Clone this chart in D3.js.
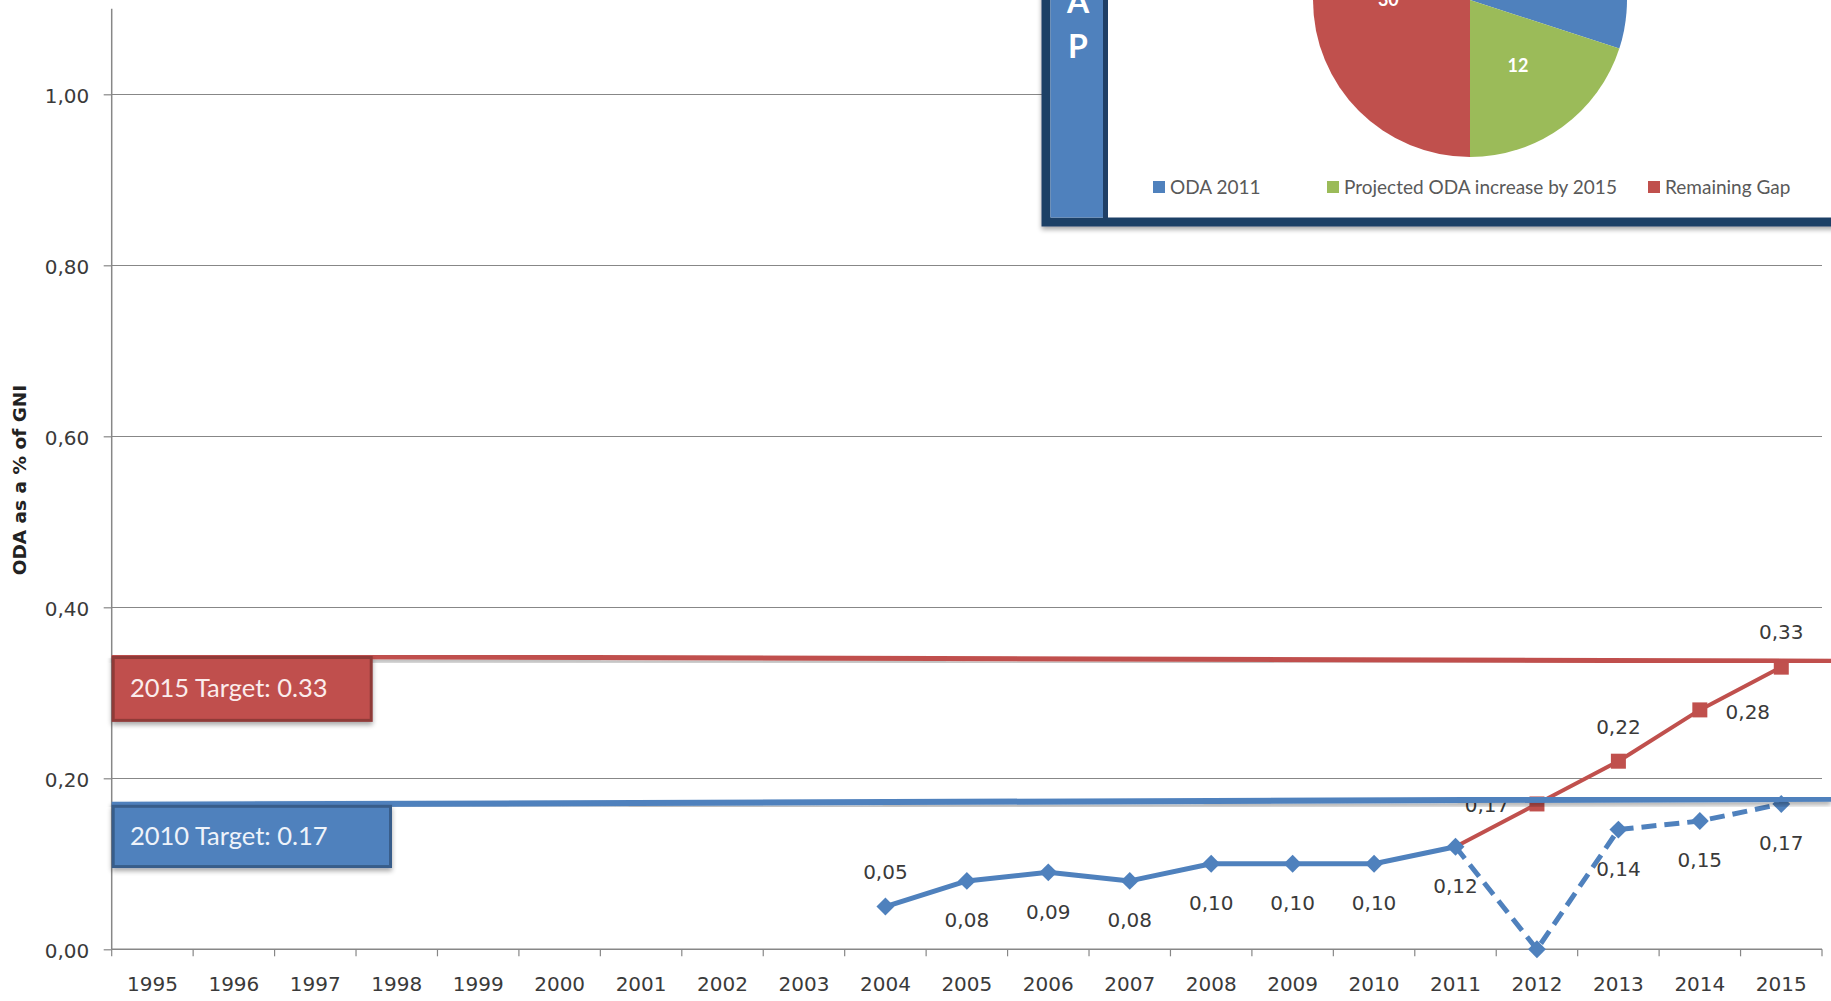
<!DOCTYPE html>
<html>
<head>
<meta charset="utf-8">
<script src="https://cdn.jsdelivr.net/npm/d3@7"></script>
<style>
  html, body { margin: 0; padding: 0; background: #ffffff; }
  svg { display: block; }
</style>
</head>
<body>
<script>
// ---------------- DATA ----------------
const years = ["1995","1996","1997","1998","1999","2000","2001","2002","2003","2004",
               "2005","2006","2007","2008","2009","2010","2011","2012","2013","2014","2015"];
const yTickValues = [0, 0.2, 0.4, 0.6, 0.8, 1.0];
const yTickLabels = ["0,00","0,20","0,40","0,60","0,80","1,00"];

// ODA actual (solid blue)
const actualYears  = ["2004","2005","2006","2007","2008","2009","2010","2011"];
const actualValues = [0.05, 0.08, 0.09, 0.08, 0.10, 0.10, 0.10, 0.12];
const actualLabels = ["0,05","0,08","0,09","0,08","0,10","0,10","0,10","0,12"];
const actualLabelPos = ["above","below","below","below","below","below","below","below"];

// ODA projected (dashed blue)
const projYears  = ["2011","2012","2013","2014","2015"];
const projValues = [0.12, 0.00, 0.14, 0.15, 0.17];
const projLabels = ["", "", "0,14", "0,15", "0,17"];
const projLabelPos = ["none","none","below","below","below"];

// Path to target (red)
const pathYears  = ["2011","2012","2013","2014","2015"];
const pathValues = [0.12, 0.17, 0.22, 0.28, 0.33];
const pathLabels = ["", "0,17", "0,22", "0,28", "0,33"];
const pathLabelPos = ["none","left","above","right","above"];

// Target annotations (hand-drawn lines: value at left end, value at right end)
const targetNames = ["2015 Target: 0.33", "2010 Target: 0.17"];
const targetLineStart = [0.343, 0.169];
const targetLineEnd   = [0.337, 0.176];
const targetBoxBottom = [0.266, 0.095];

// Inset pie
const pieLabels = ["ODA 2011", "Projected ODA increase by 2015", "Remaining Gap"];
const pieValues = [18, 12, 30];
const gapLetters = ["A", "P"];

// ---------------- LAYOUT / STYLE ----------------
const W = 1831, H = 1001;
const pLeft = 111.7, pRight = 1822, pBottom = 949.3, pTop = 8.8;
const BLUE = "#4f81bd", RED = "#c0504d", GREEN = "#9bbb59";
const AXIS = "#878787", TXT = "#3a3a3a";
const pieColors = [BLUE, GREEN, RED];
const targetColors = [RED, BLUE];
const targetStroke = ["#8f3a38", "#385d8a"];
const targetText = ["#fbecec", "#eef3fa"];
const targetBoxRight = [372.7, 392];
const targetLineWidth = [5, 6];

const svg = d3.select("body").append("svg").attr("width", W).attr("height", H);
svg.append("rect").attr("width", W).attr("height", H).attr("fill", "#fff");

const defs = svg.append("defs");
const sh = defs.append("filter").attr("id", "shadow").attr("x", "-5%").attr("y", "-20%").attr("width", "110%").attr("height", "140%");
sh.append("feGaussianBlur").attr("in", "SourceAlpha").attr("stdDeviation", 2.5);
sh.append("feOffset").attr("dx", 0).attr("dy", 3).attr("result", "b");
sh.append("feComponentTransfer").append("feFuncA").attr("type", "linear").attr("slope", 0.35);
const mg = sh.append("feMerge"); mg.append("feMergeNode"); mg.append("feMergeNode").attr("in", "SourceGraphic");

const x = d3.scaleBand().domain(years).range([pLeft, pRight]).paddingInner(0).paddingOuter(0);
const y = d3.scaleLinear().domain([0, 1.1]).range([pBottom, pTop]);
const cx = yr => x(yr) + x.bandwidth() / 2;

// gridlines
const grid = svg.append("g").attr("transform", `translate(${pLeft},0)`)
  .call(d3.axisLeft(y).tickValues(yTickValues.filter(v => v > 0)).tickSize(-(pRight - pLeft)).tickFormat(""));
grid.select(".domain").remove();
grid.selectAll("line").attr("stroke", AXIS).attr("stroke-width", 1.2).attr("shape-rendering", "crispEdges");

// y axis
const yAx = svg.append("g").attr("transform", `translate(${pLeft},0)`)
  .call(d3.axisLeft(y).tickValues(yTickValues).tickSize(8).tickPadding(14.5)
        .tickFormat((d, i) => yTickLabels[i]));
yAx.select(".domain").attr("stroke", AXIS).attr("stroke-width", 1.5).attr("d", `M0,${pTop}V${pBottom}`);
yAx.selectAll("line").attr("stroke", AXIS).attr("stroke-width", 1.2);
yAx.selectAll("text").attr("font-family", "DejaVu Sans").attr("font-size", 20).attr("fill", TXT).attr("dy", "0.42em");

// x axis
const xAx = svg.append("g").attr("transform", `translate(0,${pBottom})`)
  .call(d3.axisBottom(x).tickSize(0).tickPadding(27.5));
xAx.select(".domain").attr("stroke", AXIS).attr("stroke-width", 1.5).attr("d", `M${pLeft},0H${pRight}`);
xAx.selectAll("text").attr("font-family", "DejaVu Sans").attr("font-size", 20).attr("fill", TXT);
const tickPos = years.map(d => x(d)).concat([x(years[years.length - 1]) + x.bandwidth()]);
svg.append("g").selectAll("line").data(tickPos).join("line")
  .attr("x1", d => d).attr("x2", d => d).attr("y1", pBottom).attr("y2", pBottom + 7)
  .attr("stroke", AXIS).attr("stroke-width", 1.2);

// y axis title
svg.append("text").attr("transform", `translate(26,480) rotate(-90)`)
  .attr("text-anchor", "middle").attr("font-family", "DejaVu Sans").attr("font-weight", "bold")
  .attr("font-size", 18.5).attr("fill", "#222").text("ODA as a % of GNI");

// series
const mk = (ys, vs) => ys.map((yr, i) => ({ year: yr, v: vs[i] }));
const actual = mk(actualYears, actualValues);
const proj = mk(projYears, projValues);
const pathS = mk(pathYears, pathValues);
const line = d3.line().x(d => cx(d.year)).y(d => y(d.v));

svg.append("path").datum(proj).attr("d", line).attr("fill", "none").attr("stroke", BLUE)
  .attr("stroke-width", 5).attr("stroke-dasharray", "15 8");
svg.append("path").datum(actual).attr("d", line).attr("fill", "none").attr("stroke", BLUE)
  .attr("stroke-width", 5).attr("stroke-linejoin", "round");
svg.append("path").datum(pathS).attr("d", line).attr("fill", "none").attr("stroke", RED)
  .attr("stroke-width", 4).attr("stroke-linejoin", "round");

const diamond = { draw(ctx, size) { const r = Math.sqrt(size) / 2 * Math.SQRT2; ctx.moveTo(0, -r); ctx.lineTo(r, 0); ctx.lineTo(0, r); ctx.lineTo(-r, 0); ctx.closePath(); } };
const diamondPts = actual.concat(proj.slice(1));
svg.append("g").selectAll("path").data(diamondPts).join("path")
  .attr("transform", d => `translate(${cx(d.year)},${y(d.v)})`)
  .attr("d", d3.symbol().type(diamond).size(160)).attr("fill", BLUE);
svg.append("g").selectAll("rect").data(pathS.slice(1)).join("rect")
  .attr("x", d => cx(d.year) - 7.5).attr("y", d => y(d.v) - 7.5)
  .attr("width", 15).attr("height", 15).attr("fill", RED);

// data labels
function labels(data, texts, pos) {
  const off = { above: [0, -35], below: [0, 39], left: [-50, 1], right: [48, 2] };
  const items = data.map((d, i) => ({ d, t: texts[i], p: pos[i] })).filter(o => o.p !== "none");
  svg.append("g").selectAll("text").data(items).join("text")
    .attr("x", o => cx(o.d.year) + off[o.p][0])
    .attr("y", o => y(o.d.v) + off[o.p][1] + 7.3)
    .attr("text-anchor", "middle").attr("font-family", "DejaVu Sans").attr("font-size", 20)
    .attr("fill", TXT).text(o => o.t);
}
labels(actual, actualLabels, actualLabelPos);
labels(proj, projLabels, projLabelPos);
labels(pathS, pathLabels, pathLabelPos);

// target lines and boxes
targetNames.forEach((name, i) => {
  svg.append("line").attr("x1", pLeft).attr("x2", W)
    .attr("y1", y(targetLineStart[i])).attr("y2", y(targetLineEnd[i]))
    .attr("stroke", targetColors[i]).attr("stroke-width", targetLineWidth[i]).attr("filter", "url(#shadow)");
  const y0 = y(targetLineStart[i]), y1 = y(targetBoxBottom[i]);
  svg.append("rect").attr("x", pLeft + 1.5).attr("y", y0 + 1.5)
    .attr("width", targetBoxRight[i] - pLeft - 3).attr("height", y1 - y0 - 3)
    .attr("fill", targetColors[i]).attr("stroke", targetStroke[i]).attr("stroke-width", 3)
    .attr("filter", "url(#shadow)");
  svg.append("text").attr("x", 130).attr("y", (y0 + y1) / 2 + 8.5)
    .attr("font-family", "Lato").attr("font-size", 25.5).attr("fill", targetText[i]).text(name);
});

// ---------------- INSET ----------------
const inset = svg.append("g");
inset.append("rect").attr("x", 1046).attr("y", -30).attr("width", 820).attr("height", 252)
  .attr("fill", "#fff").attr("stroke", "#1f3f66").attr("stroke-width", 9).attr("filter", "url(#shadow)");
inset.append("rect").attr("x", 1050.5).attr("y", -30).attr("width", 52.5).attr("height", 247.5).attr("fill", BLUE);
inset.append("line").attr("x1", 1105.5).attr("x2", 1105.5).attr("y1", -30).attr("y2", 218)
  .attr("stroke", "#1f3f66").attr("stroke-width", 5);
inset.selectAll("text.gap").data(gapLetters).join("text").attr("class", "gap")
  .attr("x", 1078).attr("y", (d, i) => 58 - (gapLetters.length - 1 - i) * 45)
  .attr("text-anchor", "middle").attr("font-family", "Lato").attr("font-weight", "bold")
  .attr("font-size", 32).attr("fill", "#fff").text(d => d);

const pie = d3.pie().sort(null).value(d => d)(pieValues);
const R = 157;
const arc = d3.arc().innerRadius(0).outerRadius(R);
const labelArc = d3.arc().innerRadius(R * 0.52).outerRadius(R * 0.52);
const pieCY = 0;
const pg = inset.append("g").attr("transform", `translate(1470,${pieCY})`);
pg.selectAll("path").data(pie).join("path").attr("d", arc).attr("fill", (d, i) => pieColors[i]);
// only the slice labels that fall inside the visible part of the inset
pg.selectAll("text").data(pie.filter(d => labelArc.centroid(d)[1] + pieCY > -12)).join("text")
  .attr("transform", d => `translate(${labelArc.centroid(d)})`)
  .attr("text-anchor", "middle").attr("dy", "0.35em")
  .attr("font-family", "Lato").attr("font-weight", "bold").attr("font-size", 18).attr("fill", "#fff")
  .text(d => d.value);

const legendX = [1153, 1327, 1648];
const lg = inset.append("g").selectAll("g").data(pieLabels).join("g")
  .attr("transform", (d, i) => `translate(${legendX[i]},187)`);
lg.append("rect").attr("x", 0).attr("y", -6).attr("width", 12).attr("height", 12).attr("fill", (d, i) => pieColors[i]);
lg.append("text").attr("x", 17).attr("dy", "0.35em").attr("font-family", "Lato").attr("font-size", 19)
  .attr("fill", "#595959").text(d => d);
</script>
</body>
</html>
